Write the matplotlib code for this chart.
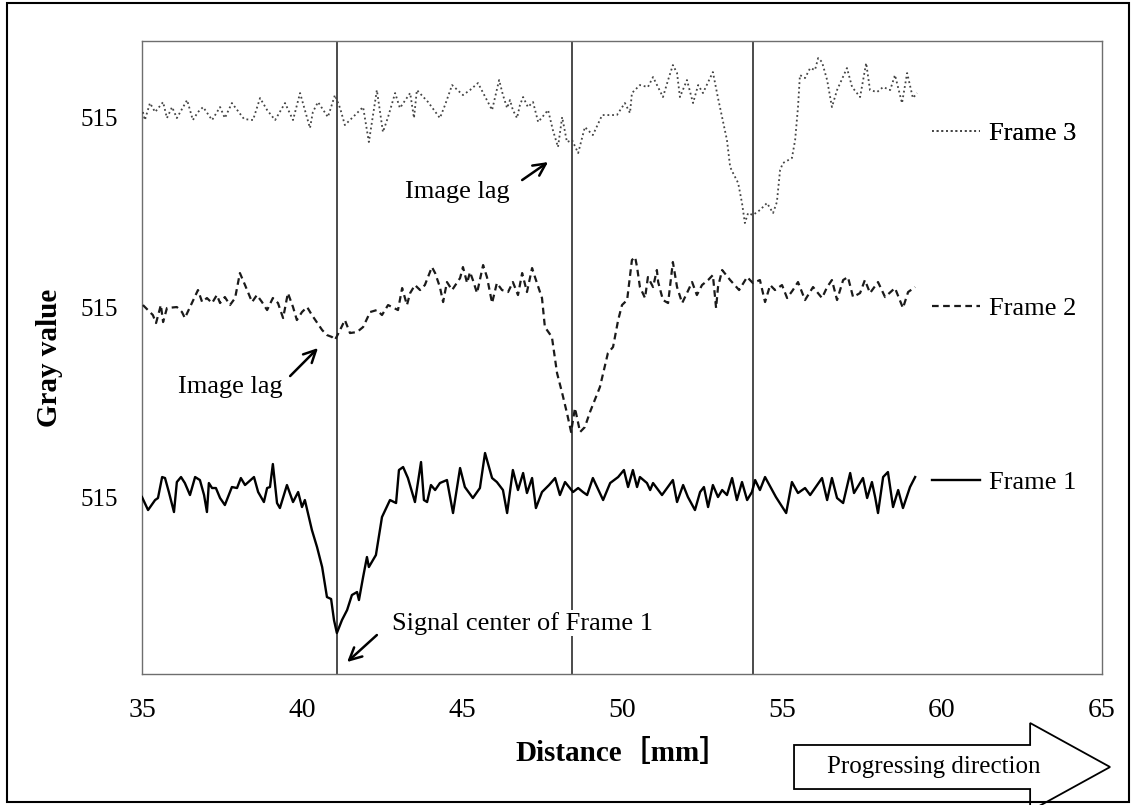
import matplotlib
matplotlib.use("Agg")
import matplotlib.pyplot as plt
from matplotlib.patches import FancyArrow, Rectangle

plt.rcParams['font.family'] = ['Liberation Serif', 'Noto Sans CJK JP']

# distance [mm] and gray value
x1 = [35.00, 35.19, 35.41, 35.50, 35.63, 35.72, 35.84, 36.00, 36.09, 36.22,
      36.34, 36.50, 36.66, 36.81, 36.94, 37.03, 37.09, 37.19, 37.31, 37.44,
      37.59, 37.81, 37.97, 38.09, 38.22, 38.50, 38.63, 38.81, 38.91, 39.00,
      39.09, 39.22, 39.31, 39.53, 39.72, 39.88, 40.00, 40.09, 40.31, 40.47,
      40.63, 40.78, 40.91, 41.00, 41.09, 41.25, 41.41, 41.56, 41.72, 41.78,
      41.91, 42.03, 42.09, 42.31, 42.50, 42.75, 42.94, 43.03, 43.16, 43.31,
      43.53, 43.72, 43.81, 43.91, 44.03, 44.16, 44.31, 44.53, 44.72, 44.94,
      45.09, 45.34, 45.56, 45.72, 45.94, 46.09, 46.28, 46.41, 46.59, 46.75,
      46.91, 47.03, 47.19, 47.31, 47.50, 47.72, 47.91, 48.06, 48.22, 48.47,
      48.63, 48.78, 48.91, 49.09, 49.41, 49.63, 49.88, 50.06, 50.19, 50.34,
      50.47, 50.56, 50.78, 50.88, 50.97, 51.25, 51.59, 51.72, 51.91, 52.06,
      52.28, 52.44, 52.56, 52.69, 52.84, 53.00, 53.13, 53.28, 53.44, 53.59,
      53.75, 53.91, 54.06, 54.16, 54.31, 54.47, 54.81, 55.13, 55.31, 55.50,
      55.72, 55.88, 56.25, 56.41, 56.56, 56.72, 56.91, 57.13, 57.25, 57.53,
      57.66, 57.81, 57.91, 58.00, 58.16, 58.31, 58.47, 58.63, 58.78, 59.00,
      59.16]
frame1 = [515.0, 513.7, 514.7, 514.9, 517.0, 516.9, 515.5, 513.5, 516.5, 517.0,
          516.4, 515.2, 517.0, 516.7, 515.2, 513.5, 516.4, 515.9, 515.9, 514.9,
          514.2, 516.0, 515.9, 516.9, 516.2, 517.0, 515.5, 514.5, 515.9, 516.0,
          518.3, 514.4, 513.9, 516.2, 514.5, 515.5, 514.0, 514.7, 511.7, 510.0,
          508.0, 505.0, 504.8, 502.7, 501.4, 502.7, 503.7, 505.2, 505.5, 504.7,
          507.0, 509.0, 508.0, 509.2, 513.0, 514.7, 514.4, 517.7, 518.0, 516.9,
          514.5, 518.5, 514.7, 514.5, 516.2, 515.7, 516.4, 516.7, 513.4, 517.9,
          516.0, 514.9, 515.9, 519.4, 516.9, 516.5, 515.7, 513.4, 517.7, 515.7,
          517.4, 515.4, 516.9, 513.9, 515.5, 516.2, 516.9, 515.2, 516.5, 515.5,
          515.9, 515.5, 515.2, 516.9, 514.7, 516.4, 517.0, 517.7, 516.0, 517.7,
          516.0, 517.0, 516.4, 515.7, 516.4, 515.2, 516.7, 514.5, 516.2, 515.0,
          513.7, 515.5, 516.0, 514.0, 516.2, 515.0, 515.7, 515.2, 516.9, 514.7,
          516.5, 514.7, 515.5, 516.7, 515.7, 517.0, 515.0, 513.4, 516.5, 515.4,
          515.9, 515.2, 516.9, 514.7, 516.9, 514.9, 514.4, 517.4, 515.4, 516.9,
          514.9, 516.5, 515.0, 513.4, 517.0, 517.5, 514.0, 515.7, 513.9, 516.0,
          517.0]

x2 = [35.03, 35.34, 35.44, 35.59, 35.66, 35.78, 36.09, 36.25, 36.34, 36.56,
      36.75, 36.88, 37.03, 37.19, 37.34, 37.44, 37.59, 37.75, 37.91, 38.06,
      38.22, 38.44, 38.59, 38.75, 38.91, 39.09, 39.25, 39.41, 39.56, 39.72,
      39.84, 40.00, 40.16, 40.31, 40.63, 40.78, 40.94, 41.03, 41.19, 41.34,
      41.50, 41.72, 41.91, 42.13, 42.34, 42.50, 42.69, 43.00, 43.13, 43.28,
      43.38, 43.53, 43.69, 43.84, 44.06, 44.16, 44.31, 44.41, 44.53, 44.69,
      44.94, 45.03, 45.16, 45.25, 45.34, 45.47, 45.66, 45.78, 45.94, 46.09,
      46.25, 46.44, 46.59, 46.75, 46.88, 47.03, 47.19, 47.28, 47.50, 47.59,
      47.81, 47.97, 48.13, 48.28, 48.41, 48.53, 48.69, 48.84, 49.00, 49.31,
      49.56, 49.72, 49.88, 50.00, 50.16, 50.31, 50.41, 50.47, 50.56, 50.72,
      50.81, 50.97, 51.09, 51.13, 51.28, 51.44, 51.59, 51.72, 51.88, 52.03,
      52.19, 52.34, 52.50, 52.69, 52.84, 52.94, 53.00, 53.13, 53.38, 53.66,
      53.91, 54.09, 54.31, 54.47, 54.63, 54.78, 55.00, 55.16, 55.34, 55.50,
      55.72, 55.97, 56.25, 56.41, 56.56, 56.72, 56.91, 57.06, 57.22, 57.44,
      57.59, 57.75, 58.00, 58.22, 58.53, 58.78, 58.94, 59.16]
frame2 = [515.2, 514.2, 513.4, 515.2, 513.5, 514.9, 515.0, 514.5, 513.9, 515.4,
          516.7, 515.5, 515.9, 515.4, 516.2, 515.4, 516.0, 515.2, 515.9, 518.4,
          517.2, 515.5, 516.2, 515.5, 514.7, 515.9, 515.4, 513.9, 516.4, 515.0,
          513.7, 514.5, 515.0, 514.2, 512.7, 512.2, 512.0, 511.7, 512.7, 513.7,
          512.4, 512.5, 513.0, 514.5, 514.7, 514.2, 515.2, 514.7, 516.9, 515.2,
          516.4, 517.2, 516.7, 517.2, 519.0, 518.4, 517.0, 515.5, 517.5, 516.7,
          517.9, 519.0, 517.4, 518.5, 517.7, 516.4, 519.2, 518.0, 515.4, 517.4,
          516.7, 516.5, 517.5, 516.2, 518.4, 516.5, 518.9, 518.0, 515.9, 513.0,
          512.0, 508.4, 506.4, 504.4, 502.5, 504.9, 502.5, 503.0, 504.5, 507.0,
          510.4, 511.0, 513.7, 515.2, 515.7, 519.7, 520.0, 519.0, 517.0, 515.9,
          518.0, 517.0, 518.7, 517.5, 515.7, 515.4, 519.5, 517.0, 515.4, 516.4,
          517.5, 516.2, 517.2, 517.7, 518.2, 514.9, 517.0, 518.7, 517.7, 516.7,
          518.0, 517.4, 517.7, 515.5, 517.2, 516.7, 517.2, 515.9, 516.7, 517.5,
          515.7, 517.0, 515.9, 517.0, 517.7, 515.7, 517.7, 518.0, 516.0, 516.4,
          517.7, 516.4, 517.5, 516.0, 516.9, 514.9, 516.5, 517.0]

x3 = [35.03, 35.09, 35.25, 35.41, 35.66, 35.78, 35.94, 36.09, 36.41, 36.59,
      36.75, 36.91, 37.19, 37.44, 37.59, 37.81, 38.19, 38.47, 38.69, 38.91,
      39.16, 39.47, 39.72, 39.94, 40.25, 40.34, 40.50, 40.81, 41.03, 41.19,
      41.34, 41.75, 41.91, 42.09, 42.34, 42.53, 42.69, 42.91, 43.06, 43.38,
      43.50, 43.59, 43.94, 44.31, 44.47, 44.69, 45.03, 45.25, 45.50, 45.94,
      46.16, 46.28, 46.41, 46.50, 46.59, 46.72, 46.81, 46.91, 47.06, 47.22,
      47.38, 47.69, 47.84, 48.00, 48.13, 48.28, 48.44, 48.63, 48.84, 49.09,
      49.38, 49.84, 50.09, 50.25, 50.31, 50.56, 50.81, 50.97, 51.28, 51.44,
      51.59, 51.72, 51.81, 52.03, 52.22, 52.38, 52.53, 52.84, 53.00, 53.16,
      53.28, 53.38, 53.47, 53.63, 53.75, 53.84, 53.94, 54.09, 54.31, 54.53,
      54.72, 54.84, 54.94, 55.03, 55.31, 55.41, 55.50, 55.56, 55.72, 55.88,
      56.03, 56.13, 56.25, 56.41, 56.56, 56.72, 57.03, 57.19, 57.44, 57.63,
      57.75, 57.97, 58.16, 58.38, 58.53, 58.75, 58.91, 59.09, 59.22]
frame3 = [515.5, 514.7, 516.4, 515.5, 516.5, 514.9, 516.0, 514.9, 516.7, 514.7,
          515.5, 516.0, 514.7, 516.0, 514.9, 516.4, 514.8, 514.7, 516.9, 515.7,
          514.7, 516.4, 514.7, 517.4, 513.9, 515.5, 516.5, 515.0, 517.2, 515.9,
          514.2, 515.5, 516.0, 512.5, 517.7, 513.5, 515.0, 517.4, 515.9, 517.4,
          514.9, 517.7, 516.5, 514.9, 516.2, 518.2, 517.2, 517.7, 518.4, 515.7,
          518.7, 517.2, 515.9, 516.7, 515.7, 514.9, 516.2, 517.0, 516.0, 516.5,
          514.5, 515.7, 513.7, 512.0, 515.0, 512.5, 512.7, 511.4, 514.0, 513.2,
          515.2, 515.2, 516.4, 515.4, 517.4, 518.2, 518.0, 519.0, 517.0, 518.7,
          520.2, 519.4, 517.0, 518.7, 516.4, 518.2, 517.4, 519.5, 516.9, 514.5,
          512.7, 510.0, 509.4, 508.4, 506.4, 504.4, 505.4, 505.2, 505.7, 506.4,
          505.4, 506.5, 509.7, 510.4, 510.9, 512.7, 516.0, 519.2, 518.9, 519.9,
          519.7, 520.9, 520.5, 518.7, 516.0, 517.7, 519.9, 518.0, 517.0, 520.4,
          517.7, 517.5, 518.0, 517.7, 519.2, 516.4, 519.4, 516.9, 517.4]

labels = ['Frame 1', 'Frame 2', 'Frame 3']
offsets = [0, 19, 38]          # vertical shift of each frame
centers = [41.09, 48.44, 54.09]  # signal center of frame 1, 2, 3

fig = plt.figure(figsize=(11.34, 8.05), dpi=100)
ax = fig.add_axes([0.1252, 0.1627, 0.8466, 0.7863])

for c in centers:
    ax.axvline(c, color='#1a1a1a', lw=1.1, zorder=1)

l1, = ax.plot(x1, [v + offsets[0] for v in frame1], color='black', lw=1.7,
              zorder=3)
l2, = ax.plot(x2, [v + offsets[1] for v in frame2], color='#1a1a1a', lw=1.6,
              dashes=(3, 2), zorder=3)
l3, = ax.plot(x3, [v + offsets[2] for v in frame3], color='#444444', lw=1.3,
              dashes=(1, 1.6), zorder=3)

ax.set_xlim(35, 65)
ax.set_ylim(497.3, 560.6)
ax.set_xticks(range(35, 66, 5))
ax.set_yticks([515 + o for o in offsets])
ax.set_yticklabels(['515'] * 3)
ax.tick_params(axis='x', length=0, pad=17, labelsize=20)
ax.tick_params(axis='y', length=0, pad=17, labelsize=18)
for s in ax.spines.values():
    s.set_color('#6e6e6e')
    s.set_linewidth(1.0)

ax.set_xlabel('Distance［mm］', fontsize=21, fontweight='bold', labelpad=12)
ax.set_ylabel('Gray value', fontsize=21, fontweight='bold', labelpad=13)

# legend keys beside each curve
leg_y = [0.3033, 0.5782, 0.8547]
for line, lab, ly in zip([l1, l2, l3], labels, leg_y):
    leg = ax.legend([line], [lab], loc='center left', bbox_to_anchor=(0.823, ly),
                    frameon=False, handlelength=1.8, handletextpad=0.35,
                    borderpad=0, borderaxespad=0, fontsize=19)
    ax.add_artist(leg)

# annotations
arrow = dict(arrowstyle='->', lw=1.8, color='black', mutation_scale=22,
             shrinkA=0, shrinkB=0)
ax.text(44.84, 545.5, 'Image lag', fontsize=19, ha='center', va='center')
ax.annotate('', xy=(47.69, 548.5), xytext=(46.88, 546.7), arrowprops=arrow)
ax.text(37.75, 526.0, 'Image lag', fontsize=19, ha='center', va='center')
ax.annotate('', xy=(40.50, 529.9), xytext=(39.63, 527.1), arrowprops=arrow)
ax.text(46.89, 502.4, 'Signal center of Frame 1', fontsize=19, ha='center',
        va='center', zorder=4,
        bbox=dict(facecolor='white', edgecolor='none', pad=1))
ax.annotate('', xy=(41.41, 498.5), xytext=(42.34, 501.2), arrowprops=arrow)

# progressing direction block arrow
fig.add_artist(FancyArrow(0.7002, 0.0472, 0.2787, 0, width=0.0547,
                          head_width=0.1093, head_length=0.0705,
                          length_includes_head=True, transform=fig.transFigure,
                          facecolor='white', edgecolor='black', lw=1.3))
fig.text(0.8236, 0.0472, 'Progressing direction', fontsize=18, ha='center',
         va='center')

fig.add_artist(Rectangle((0.0062, 0.0037), 0.9894, 0.9926, transform=fig.transFigure,
                         fill=False, edgecolor='black', lw=1.5))

fig.savefig('out.png', dpi=100)
